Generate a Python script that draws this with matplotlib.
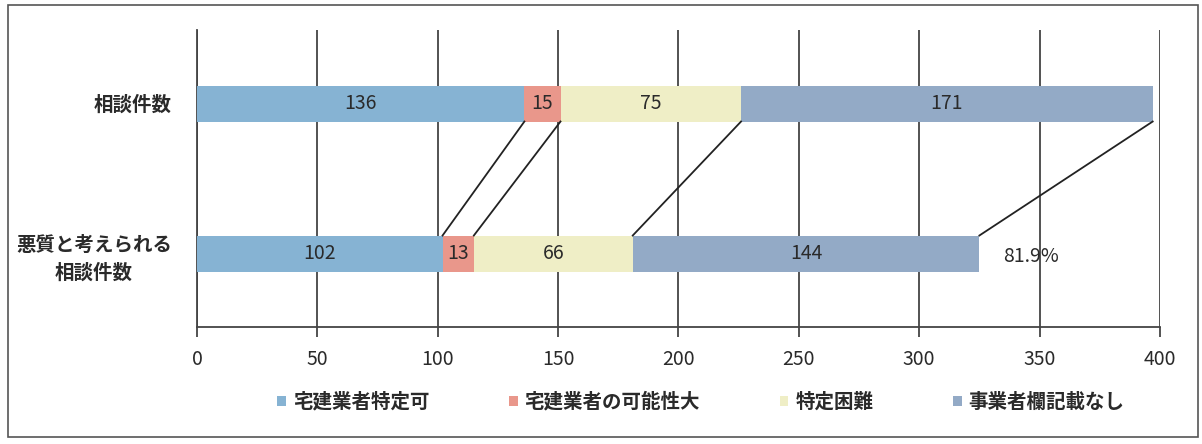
import numpy as np
import matplotlib.pyplot as plt
from matplotlib.patches import Rectangle

plt.rcParams['font.family'] = ['Noto Sans CJK JP', 'DejaVu Sans']

# data
categories = ['悪質と考えられる\n相談件数', '相談件数']
series_names = ['宅建業者特定可', '宅建業者の可能性大', '特定困難', '事業者欄記載なし']
values = {
    '相談件数': [136, 15, 75, 171],
    '悪質と考えられる\n相談件数': [102, 13, 66, 144],
}
colors = ['#86b3d3', '#e9978b', '#efeec6', '#93aac6']
ratio_label = '81.9%'
xticks = [0, 50, 100, 150, 200, 250, 300, 350, 400]

fig = plt.figure(figsize=(12.02, 4.44), dpi=100)
ax = fig.add_axes([0.1639, 0.2635, 0.8011, 0.6689])

ypos = np.arange(len(categories))
bar_h = 0.24
vals = np.array([values[c] for c in categories])  # rows = categories
lefts = np.zeros(len(categories))
for j, name in enumerate(series_names):
    ax.barh(ypos, vals[:, j], left=lefts, height=bar_h, color=colors[j],
            label=name, zorder=3)
    for i in range(len(categories)):
        ax.text(lefts[i] + vals[i, j] / 2, ypos[i], str(vals[i, j]),
                ha='center', va='center', fontsize=14, color='#2a2a2a', zorder=4)
    lefts = lefts + vals[:, j]

# connector lines between cumulative boundaries
cum_top = np.cumsum(vals[1])
cum_bot = np.cumsum(vals[0])
for a, b in zip(cum_top, cum_bot):
    ax.plot([a, b], [ypos[1] - bar_h / 2, ypos[0] + bar_h / 2],
            color='#222222', lw=1.3, zorder=5)

ax.text(cum_bot[-1] + 10, ypos[0] - 0.02, ratio_label, ha='left', va='center',
        fontsize=14, color='#2a2a2a', zorder=6)

ax.set_xlim(0, 400)
ax.set_ylim(-0.49, 1.49)
ax.set_xticks(xticks)
ax.set_xticklabels([str(t) for t in xticks], fontsize=14, color='#2a2a2a')
ax.set_yticks(ypos)
ax.set_yticklabels(categories, fontsize=14, color='#2a2a2a', linespacing=1.5,
                   fontweight='bold', multialignment='center')
ax.tick_params(axis='y', length=0, pad=18)
ax.tick_params(axis='x', length=7, width=1.3, color='#444444', pad=9)
ax.grid(axis='x', color='#444444', lw=1.3, zorder=1)
for s in ['top', 'right']:
    ax.spines[s].set_visible(False)
for s in ['left', 'bottom']:
    ax.spines[s].set_color('#444444')
    ax.spines[s].set_linewidth(1.3)

leg = fig.legend(loc='center', bbox_to_anchor=(0.583, 0.095), ncol=4, frameon=False,
                 prop={'size': 14, 'weight': 'bold'}, handlelength=0.45,
                 handleheight=0.45, handletextpad=0.35, columnspacing=4.1)
for t in leg.get_texts():
    t.set_color('#2a2a2a')

fig.patches.append(Rectangle((8 / 1202, 7 / 444), 1190 / 1202, 432 / 444,
                             transform=fig.transFigure, fill=False,
                             edgecolor='#555555', lw=1.2))

fig.savefig('out.png', dpi=100)
